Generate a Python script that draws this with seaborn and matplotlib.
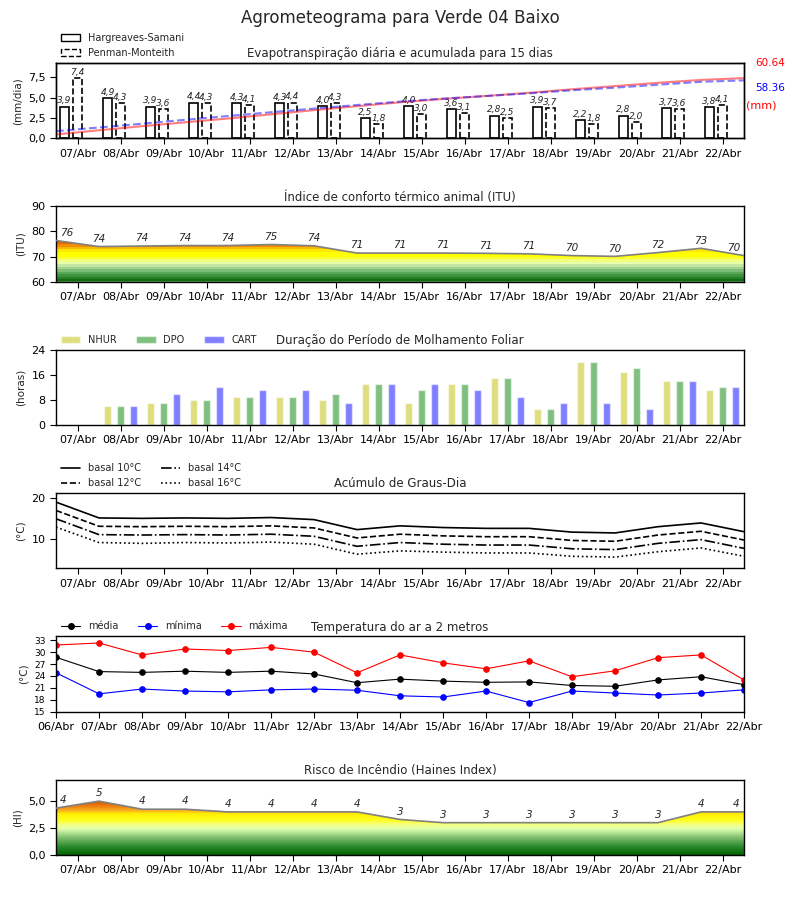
import numpy as np
import matplotlib
matplotlib.use("Agg")
import matplotlib.pyplot as plt
import seaborn as sns
from matplotlib.colors import LinearSegmentedColormap, Normalize
from matplotlib.patches import Patch
from matplotlib.lines import Line2D
from matplotlib.ticker import FuncFormatter

dias = ["07/Abr", "08/Abr", "09/Abr", "10/Abr", "11/Abr", "12/Abr", "13/Abr", "14/Abr",
        "15/Abr", "16/Abr", "17/Abr", "18/Abr", "19/Abr", "20/Abr", "21/Abr", "22/Abr"]
dias_temp = ["06/Abr"] + dias

# evapotranspiracao diaria (mm/dia) e acumulada (mm)
et_hs = [3.9, 4.9, 3.9, 4.4, 4.3, 4.3, 4.0, 2.5, 4.0, 3.6, 2.8, 3.9, 2.2, 2.8, 3.7, 3.8]
et_pm = [7.4, 4.3, 3.6, 4.3, 4.1, 4.4, 4.3, 1.8, 3.0, 3.1, 2.5, 3.7, 1.8, 2.0, 3.6, 4.1]
acum_hs = [4.0, 8.2, 12.3, 16.2, 20.0, 24.2, 28.4, 32.4, 36.3, 39.7, 42.7, 45.8, 49.4, 52.6, 55.9, 58.8, 60.64]
acum_pm = [7.3, 11.0, 14.8, 18.7, 22.5, 26.3, 30.0, 33.6, 37.0, 40.0, 42.6, 45.3, 48.4, 51.0, 54.0, 56.9, 58.36]

# indice de conforto termico
itu = [76.4, 74.0, 74.2, 74.4, 74.4, 74.8, 74.3, 71.4, 71.4, 71.4, 71.3, 71.1, 70.4, 70.1, 71.6, 73.3, 70.4]

# molhamento foliar (horas)
nhur = [0, 6, 7, 8, 9, 9, 8, 13, 7, 13, 15, 5, 20, 17, 14, 11]
dpo = [0, 6, 7, 8, 9, 9, 10, 13, 11, 13, 15, 5, 20, 18, 14, 12]
cart = [0, 6, 10, 12, 11, 11, 7, 13, 13, 11, 9, 7, 7, 5, 14, 12]

# graus-dia
gd10 = [18.9, 15.1, 15.0, 15.1, 15.0, 15.2, 14.7, 12.3, 13.2, 12.8, 12.6, 12.6, 11.7, 11.5, 13.0, 13.9, 11.8]
gd12 = [16.9, 13.1, 13.0, 13.1, 13.0, 13.2, 12.7, 10.3, 11.2, 10.8, 10.6, 10.6, 9.7, 9.5, 11.0, 11.9, 9.8]
gd14 = [14.9, 11.1, 11.0, 11.1, 11.0, 11.2, 10.7, 8.3, 9.2, 8.8, 8.6, 8.6, 7.7, 7.5, 9.0, 9.9, 7.8]
gd16 = [12.9, 9.2, 9.0, 9.2, 9.1, 9.3, 8.8, 6.4, 7.2, 6.9, 6.7, 6.7, 5.9, 5.7, 7.0, 7.9, 5.9]

# temperatura do ar (C)
t_med = [28.7, 25.1, 24.9, 25.2, 24.9, 25.2, 24.5, 22.3, 23.2, 22.7, 22.4, 22.5, 21.6, 21.4, 23.0, 23.8, 21.8]
t_min = [24.8, 19.5, 20.7, 20.2, 20.0, 20.5, 20.7, 20.4, 19.0, 18.7, 20.2, 17.3, 20.2, 19.7, 19.2, 19.7, 20.5]
t_max = [31.8, 32.3, 29.3, 30.8, 30.4, 31.2, 30.0, 24.8, 29.3, 27.3, 25.8, 27.8, 23.8, 25.3, 28.6, 29.3, 23.0]

# risco de incendio (Haines)
haines = [4.35, 5.0, 4.25, 4.25, 4.0, 4.0, 4.0, 4.0, 3.3, 3.0, 3.0, 3.0, 3.0, 3.0, 3.0, 4.0, 4.0]

sns.set_style("ticks")
plt.rcParams["font.family"] = ["DejaVu Sans"]
plt.rcParams["axes.edgecolor"] = "black"
plt.rcParams["axes.linewidth"] = 1.0
plt.rcParams["xtick.color"] = "black"
plt.rcParams["ytick.color"] = "black"

virgula = FuncFormatter(lambda v, p: f"{v:.1f}".replace(".", ","))
x_pts = np.arange(len(itu))
x_dias = np.arange(len(dias)) + 0.5

fig, axs = plt.subplots(6, 1, figsize=(8, 9), dpi=100)
fig.subplots_adjust(left=0.07, right=0.93, top=0.93, bottom=0.05, hspace=0.9)
fig.suptitle("Agrometeograma para Verde 04 Baixo", fontsize=12, y=0.99)


def eixo_dias(ax):
    ax.set_xlim(0, len(dias))
    ax.set_xticks(x_dias)
    ax.set_xticklabels(dias)
    ax.tick_params(axis="x", labelsize=8, length=4)
    ax.tick_params(axis="y", labelsize=8, length=4)


def area_gradiente(ax, y, base, topo, cmap, norm, bandas=None):
    fill = ax.fill_between(x_pts, base, y, facecolor="none", edgecolor="none")
    yy = np.linspace(base, topo, 600)
    if bandas:
        yy = np.floor(yy / bandas) * bandas + bandas / 2
    im = ax.imshow(yy.reshape(-1, 1), extent=[0, len(dias), base, topo], origin="lower",
                   aspect="auto", cmap=cmap, norm=norm, interpolation="nearest", zorder=1)
    im.set_clip_path(fill.get_paths()[0], transform=ax.transData)
    sns.lineplot(x=x_pts, y=y, ax=ax, color="gray", lw=1.2, zorder=3)
    n = len(y)
    for i, v in enumerate(y):
        if i == 0:
            ha, dx = "left", 3
        elif i == n - 1:
            ha, dx = "right", -3
        else:
            ha, dx = "center", 0
        ax.annotate(f"{round(v)}", (i, v), xytext=(dx, 2), textcoords="offset points",
                    ha=ha, va="bottom", fontsize=7.5, style="italic", zorder=4)


# ---- 1: evapotranspiracao
ax = axs[0]
ax.bar(x_dias - 0.3, et_hs, width=0.22, facecolor="white", edgecolor="black", lw=1.2)
ax.bar(x_dias, et_pm, width=0.22, facecolor="white", edgecolor="black", lw=1.2, linestyle="--")
for xs, vals in ((x_dias - 0.3, et_hs), (x_dias, et_pm)):
    for xi, v in zip(xs, vals):
        ax.text(xi, v + 0.15, f"{v:.1f}".replace(".", ","), ha="center", va="bottom",
                fontsize=6.5, style="italic")
ax.set_ylim(0, 1.25 * max(et_pm))
ax.set_yticks([0, 2.5, 5, 7.5])
ax.yaxis.set_major_formatter(virgula)
ax.set_ylabel("(mm/dia)", fontsize=7.5)
eixo_dias(ax)
ax.set_title("Evapotranspiração diária e acumulada para 15 dias", fontsize=8.5, pad=4)
ax.legend(handles=[Patch(facecolor="white", edgecolor="black", label="Hargreaves-Samani"),
                   Patch(facecolor="white", edgecolor="black", linestyle="--", label="Penman-Monteith")],
          loc="lower left", bbox_to_anchor=(0, 1.0), frameon=False, fontsize=7, borderaxespad=0.1)
tw = ax.twinx()
sns.lineplot(x=x_pts, y=acum_hs, ax=tw, color="red", alpha=0.5, lw=1.5)
sns.lineplot(x=x_pts, y=acum_pm, ax=tw, color="blue", alpha=0.5, lw=1.5, linestyle="--")
tw.set_ylim(0, 1.25 * max(acum_hs))
tw.set_xlim(0, len(dias))
tw.set_yticks([])
tw.text(1.016, 1.0, f"{acum_hs[-1]:.2f}", color="red", fontsize=7.5, transform=tw.transAxes, va="center")
tw.text(1.016, 0.667, f"{acum_pm[-1]:.2f}", color="blue", fontsize=7.5, transform=tw.transAxes, va="center")
tw.text(1.003, 0.44, "(mm)", color="red", fontsize=8, transform=tw.transAxes, va="center")

# ---- 2: ITU
ax = axs[1]
cmap_itu = LinearSegmentedColormap.from_list("itu", [
    (0.0, "#0b650b"), (2 / 30, "#2f8a2f"), (4 / 30, "#6db46d"), (6 / 30, "#b5dd9b"),
    (7.5 / 30, "#e6ffb0"), (9 / 30, "#f8ff60"), (10 / 30, "#ffff00"), (12 / 30, "#ffff00"),
    (13 / 30, "#ffd000"), (14 / 30, "#f5a000"), (15 / 30, "#ee7a00"), (16 / 30, "#dd5500"),
    (17 / 30, "#c83c00"), (1.0, "#a00000")])
area_gradiente(ax, itu, 60, 90, cmap_itu, Normalize(60, 90), bandas=1)
ax.set_ylim(60, 90)
ax.set_yticks([60, 70, 80, 90])
ax.set_ylabel("(ITU)", fontsize=7.5)
eixo_dias(ax)
ax.set_title("Índice de conforto térmico animal (ITU)", fontsize=8.5, pad=4)

# ---- 3: molhamento foliar
ax = axs[2]
ax.bar(x_dias - 0.3, nhur, width=0.16, color="y", alpha=0.5, label="NHUR")
ax.bar(x_dias, dpo, width=0.16, color="g", alpha=0.5, label="DPO")
ax.bar(x_dias + 0.3, cart, width=0.16, color="b", alpha=0.5, label="CART")
ax.set_ylim(0, 24)
ax.set_yticks([0, 8, 16, 24])
ax.set_ylabel("(horas)", fontsize=7.5)
eixo_dias(ax)
ax.set_title("Duração do Período de Molhamento Foliar", fontsize=8.5, pad=4)
ax.legend(loc="lower left", bbox_to_anchor=(0, 1.0), ncol=3, frameon=False, fontsize=7, borderaxespad=0.1)

# ---- 4: graus-dia
ax = axs[3]
for vals, ls, lab in ((gd10, "-", "basal 10°C"), (gd12, "--", "basal 12°C"),
                      (gd14, "-.", "basal 14°C"), (gd16, ":", "basal 16°C")):
    sns.lineplot(x=x_pts, y=vals, ax=ax, color="black", lw=1.2, linestyle=ls, label=lab, legend=False)
ax.set_ylim(3.0, 21.1)
ax.set_yticks([10, 20])
ax.set_ylabel("(°C)", fontsize=7.5)
eixo_dias(ax)
ax.set_title("Acúmulo de Graus-Dia", fontsize=8.5, pad=4)
hs = [Line2D([], [], color="black", lw=1.2, linestyle=ls) for ls in ("-", "--", "-.", ":")]
ax.legend(hs, ["basal 10°C", "basal 12°C", "basal 14°C", "basal 16°C"], loc="lower left",
          bbox_to_anchor=(0, 1.0), ncol=2, frameon=False, fontsize=7, borderaxespad=0.1)

# ---- 5: temperatura
ax = axs[4]
for vals, cor in ((t_med, "black"), (t_min, "blue"), (t_max, "red")):
    sns.lineplot(x=x_pts, y=vals, ax=ax, color=cor, lw=0.8, marker="o", markersize=4,
                 markeredgecolor=cor)
ax.set_xlim(0, len(dias))
ax.set_xticks(x_pts)
ax.set_xticklabels(dias_temp)
ax.tick_params(axis="x", labelsize=8, length=4)
ax.tick_params(axis="y", labelsize=6.5, length=4)
ax.set_ylim(15, 34)
ax.set_yticks(range(15, 34, 3))
ax.set_ylabel("(°C)", fontsize=7.5)
ax.set_title("Temperatura do ar a 2 metros", fontsize=8.5, pad=4)
hs = [Line2D([], [], color=c, lw=0.8, marker="o", markersize=4) for c in ("black", "blue", "red")]
ax.legend(hs, ["média", "mínima", "máxima"], loc="lower left", bbox_to_anchor=(0, 1.0),
          ncol=3, frameon=False, fontsize=7, borderaxespad=0.1)

# ---- 6: Haines
ax = axs[5]
cmap_hi = LinearSegmentedColormap.from_list("hi", [
    (0.0, "#006400"), (0.8 / 7, "#2e8b2e"), (1.6 / 7, "#7fbf6f"), (2.4 / 7, "#dfffb0"),
    (2.8 / 7, "#f5ff80"), (3.2 / 7, "#ffff20"), (3.8 / 7, "#ffee00"), (4.1 / 7, "#f8b020"),
    (4.5 / 7, "#ee8010"), (5.0 / 7, "#d05000"), (1.0, "#a02000")])
area_gradiente(ax, haines, 0, 7, cmap_hi, Normalize(0, 7))
ax.set_ylim(0, 7)
ax.set_yticks([0, 2.5, 5])
ax.yaxis.set_major_formatter(virgula)
ax.set_ylabel("(HI)", fontsize=7.5)
eixo_dias(ax)
ax.set_title("Risco de Incêndio (Haines Index)", fontsize=8.5, pad=4)

fig.savefig("out.png", dpi=100)
